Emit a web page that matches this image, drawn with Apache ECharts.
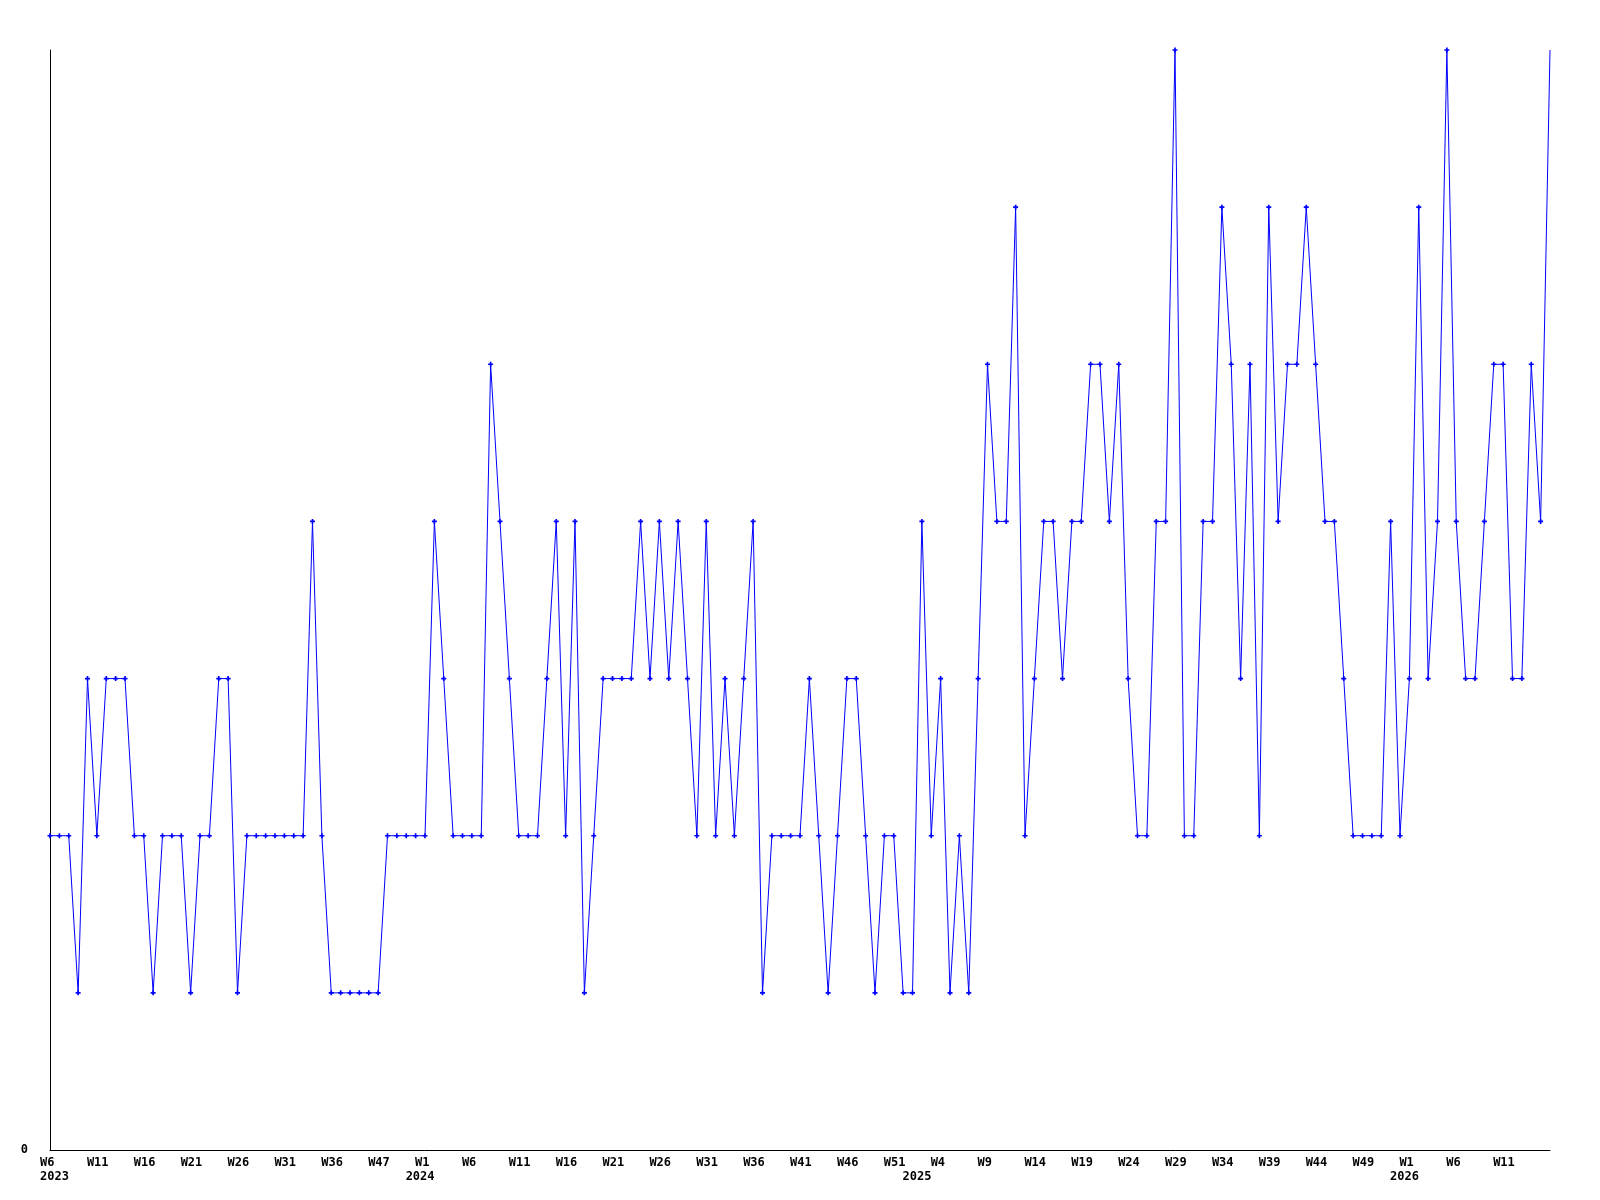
<!DOCTYPE html>
<html><head><meta charset="utf-8">
<script src="https://cdn.jsdelivr.net/npm/echarts@6/dist/echarts.min.js"></script>
<style>html,body{margin:0;padding:0;background:#fff}#c{width:1600px;height:1200px}</style>
</head><body><div id="c"></div>
<script>
// ISO-style week numbers per year, in plot order
const weeks2023 = [6,7,8,9,10,11,12,13,14,15,16,17,18,19,20,21,22,23,24,25,26,27,28,29,30,31,32,33,34,35,36,38,40,43,45,47,48,49,51,52];
const weeks2024 = [1,2,3,4,5,6,7,8,9,10,11,12,13,14,15,16,17,18,19,20,21,22,23,24,25,26,27,28,29,30,31,32,33,34,35,36,37,38,39,40,41,42,43,44,45,46,47,48,49,50,51,52];
const weeks2025 = [1,2,3,4,5,6,7,8,9,10,11,12,13,14,15,16,17,18,19,20,21,22,23,24,25,26,27,28,29,30,31,32,33,34,35,36,37,38,39,40,41,42,43,44,45,46,47,48,49,50,51,52,53];
const weeks2026 = [1,2,3,4,5,6,7,8,9,10,11,12,13,14,15,16];

const values = [
  2,2,2,1,3,2,3,3,3,2, 2,1,2,2,2,1,2,2,3,3, 1,2,2,2,2,2,2,2,4,2, 1,1,1,1,1,1,2,2,2,2,
  2,4,3,2,2,2,2,5,4,3, 2,2,2,3,4,2,4,1,2,3, 3,3,3,4,3,4,3,4,3,2, 4,2,3,2,3,4,1,2,2,2,
  2,3,2,1,2,3,3,2,1,2, 2,1,1,4,2,3,1,2,1,3, 5,4,4,6,2,3,4,4,3,4, 4,5,5,4,5,3,2,2,4,4,
  7,2,2,4,4,6,5,3,5,2, 6,4,5,5,6,5,4,4,3,2, 2,2,2,4,2,3,6,3,4,7, 4,3,3,4,5,5,3,3,5,4,
  7
];

// year labels and the category under which each is printed
const yearMarks = ['2023-W6','2023-W52','2025-W1','2025-W53'];
const yearText  = ['2023','2024','2025','2026'];
const yTickLabels = [0];

const categories = [];
weeks2023.forEach(w => categories.push('2023-W' + w));
weeks2024.forEach(w => categories.push('2024-W' + w));
weeks2025.forEach(w => categories.push('2025-W' + w));
weeks2026.forEach(w => categories.push('2026-W' + w));

const FONT = 'DejaVu Sans Mono';
const richW = { w: { width: 20, align: 'left', fontFamily: FONT, fontWeight: 'bold', fontSize: 12, color: '#000' } };

// last (current, incomplete) point is drawn without a marker
const seriesData = values.map((v, i) => i === values.length - 1 ? { value: v, symbol: 'none' } : v);

const chart = echarts.init(document.getElementById('c'), null, { renderer: 'canvas' });
chart.setOption({
  animation: false,
  backgroundColor: '#fff',
  grid: { left: 50, right: 50, top: 50, bottom: 50, containLabel: false },
  xAxis: [
    {
      type: 'category', data: categories, boundaryGap: false, position: 'bottom',
      axisLine: { show: true, lineStyle: { color: '#000', width: 1 } },
      axisTick: { show: false }, splitLine: { show: false },
      axisLabel: {
        interval: (i) => i % 5 === 0 && i < categories.length - 1, margin: 7, hideOverlap: false,
        formatter: (v) => '{w|' + v.split('-')[1] + '}', rich: richW
      }
    },
    {
      type: 'category', data: categories, boundaryGap: false, position: 'bottom', offset: 0,
      axisLine: { show: false }, axisTick: { show: false }, splitLine: { show: false },
      axisLabel: {
        interval: (i, v) => yearMarks.indexOf(v) >= 0, margin: 21, hideOverlap: false,
        formatter: (v) => { const k = yearMarks.indexOf(v); return k >= 0 ? '{w|' + yearText[k] + '}' : ''; },
        rich: { w: { width: 20, align: 'left', fontFamily: FONT, fontWeight: 'bold', fontSize: 12, color: '#000' } }
      }
    }
  ],
  yAxis: {
    type: 'value', min: 0, max: 7, interval: 1,
    axisLine: { show: true, lineStyle: { color: '#000', width: 1 } },
    axisTick: { show: false }, splitLine: { show: false },
    axisLabel: {
      margin: 22, fontFamily: FONT, fontWeight: 'bold', fontSize: 12, color: '#000',
      formatter: (v) => yTickLabels.indexOf(v) >= 0 ? String(v) : ''
    }
  },
  series: [{
    type: 'line', data: seriesData, xAxisIndex: 0, yAxisIndex: 0,
    lineStyle: { color: '#0000ff', width: 1 },
    itemStyle: { color: '#0000ff' },
    symbol: 'path://M2,0H4V2H6V4H4V6H2V4H0V2H2Z', symbolSize: 5,
    showSymbol: true, showAllSymbol: true,
    emphasis: { disabled: true }
  }]
});
</script></body></html>
